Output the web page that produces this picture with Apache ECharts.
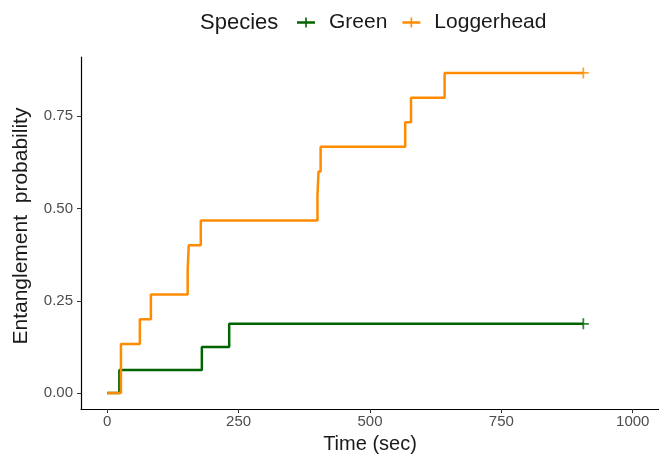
<!DOCTYPE html>
<html>
<head>
<meta charset="utf-8">
<script src="https://cdn.jsdelivr.net/npm/echarts@6/dist/echarts.min.js"></script>
<style>
  html, body { margin: 0; padding: 0; background: #fff; }
  #main { width: 659px; height: 459px; }
</style>
</head>
<body>
<div id="main"></div>
<script>
// Kaplan-Meier style cumulative curves
const greenTime = [0, 23, 180, 232, 906];
const greenProb = [0, 0.0625, 0.125, 0.1875, 0.1875];

const loggerTime = [0, 26, 62, 83, 153, 155, 178, 400, 402, 406, 567, 578, 642, 906];
const loggerProb = [0, 0.133, 0.2, 0.267, 0.333, 0.4, 0.467, 0.533, 0.6, 0.667, 0.733, 0.8, 0.867, 0.867];

const xTicks = [0, 250, 500, 750, 1000];
const yTicks = [0, 0.25, 0.5, 0.75];

const GREEN = '#006400';
const ORANGE = '#FF8C00';
const FONT = 'Liberation Sans';

const plusIcon = 'path://M0,3.8L18,3.8L18,6.2L0,6.2Z M8.2,0L9.8,0L9.8,10L8.2,10Z';
const censorMark = 'path://M0,4.2L10,4.2L10,5.8L0,5.8Z M4.2,0L5.8,0L5.8,10L4.2,10Z';

const pairs = (xs, ys) => xs.map((x, i) => [x, ys[i]]);
const lastPt = (xs, ys) => [[xs[xs.length - 1], ys[ys.length - 1]]];

const chart = echarts.init(document.getElementById('main'));

const option = {
  animation: false,
  backgroundColor: '#fff',
  title: {
    text: 'Species',
    left: 200,
    top: 12,
    padding: 0,
    textStyle: { fontFamily: FONT, fontSize: 22, fontWeight: 'normal', color: '#1a1a1a' }
  },
  legend: {
    left: 297,
    top: 12,
    padding: 0,
    itemWidth: 18,
    itemHeight: 10,
    itemGap: 15,
    data: [
      { name: 'Green', icon: plusIcon, itemStyle: { color: GREEN } },
      { name: 'Loggerhead', icon: plusIcon, itemStyle: { color: ORANGE } }
    ],
    textStyle: { fontFamily: FONT, fontSize: 21, color: '#1a1a1a', padding: [0, 0, 0, 9] }
  },
  grid: { left: 81, top: 57, bottom: 46, width: 579 },
  xAxis: {
    type: 'value',
    min: -50,
    max: 1050,
    name: 'Time (sec)',
    nameLocation: 'middle',
    nameGap: 19,
    nameTextStyle: { fontFamily: FONT, fontSize: 20, color: '#1a1a1a' },
    axisLine: { show: true, onZero: false, lineStyle: { color: '#000', width: 1.2 } },
    axisTick: { show: true, length: 4, customValues: xTicks, lineStyle: { color: '#333' } },
    axisLabel: {
      customValues: xTicks, margin: 5, fontFamily: FONT, fontSize: 15, color: '#4d4d4d',
      formatter: v => String(v)
    },
    splitLine: { show: false }
  },
  yAxis: {
    type: 'value',
    min: -0.0433,
    max: 0.91,
    name: 'Entanglement  probability',
    nameLocation: 'middle',
    nameGap: 49,
    nameTextStyle: { fontFamily: FONT, fontSize: 21, color: '#1a1a1a', padding: [0, 0, 0, 14] },
    axisLine: { show: true, onZero: false, lineStyle: { color: '#000', width: 1.2 } },
    axisTick: { show: true, length: 4, customValues: yTicks, lineStyle: { color: '#333' } },
    axisLabel: {
      customValues: yTicks, margin: 8, fontFamily: FONT, fontSize: 15, color: '#4d4d4d',
      formatter: v => v.toFixed(2)
    },
    splitLine: { show: false }
  },
  series: [
    {
      name: 'Green',
      type: 'line',
      step: 'end',
      symbol: 'none',
      color: GREEN,
      lineStyle: { width: 2.5, color: GREEN },
      data: pairs(greenTime, greenProb)
    },
    {
      name: 'Loggerhead',
      type: 'line',
      step: 'end',
      symbol: 'none',
      color: ORANGE,
      lineStyle: { width: 2.5, color: ORANGE },
      data: pairs(loggerTime, loggerProb)
    },
    {
      name: 'Green',
      type: 'scatter',
      symbol: censorMark,
      symbolSize: 11,
      itemStyle: { color: GREEN },
      data: lastPt(greenTime, greenProb)
    },
    {
      name: 'Loggerhead',
      type: 'scatter',
      symbol: censorMark,
      symbolSize: 11,
      itemStyle: { color: ORANGE },
      data: lastPt(loggerTime, loggerProb)
    }
  ]
};

chart.setOption(option);
</script>
</body>
</html>
